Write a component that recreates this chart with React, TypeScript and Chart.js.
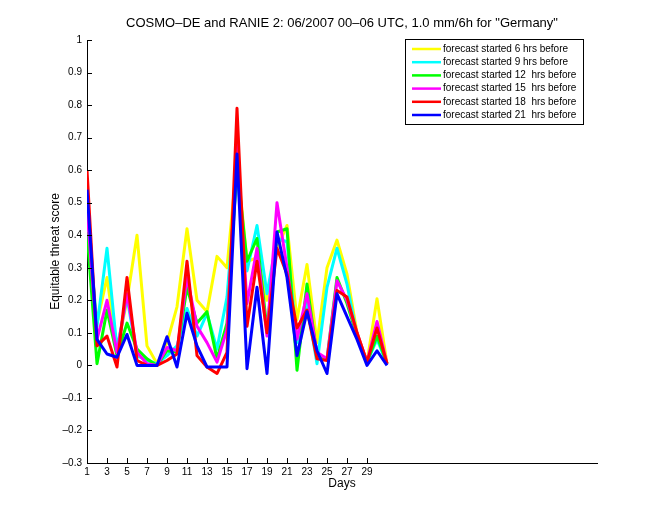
import React, { useEffect, useRef } from 'react';
import { Chart, registerables } from 'chart.js';

Chart.register(...registerables);

const days = [1, 2, 3, 4, 5, 6, 7, 8, 9, 10, 11, 12, 13, 14, 15, 16, 17, 18, 19, 20, 21, 22, 23, 24, 25, 26, 27, 28, 29, 30, 31];
const xTickValues = [1, 3, 5, 7, 9, 11, 13, 15, 17, 19, 21, 23, 25, 27, 29];
const yTickValues = [-0.3, -0.2, -0.1, 0, 0.1, 0.2, 0.3, 0.4, 0.5, 0.6, 0.7, 0.8, 0.9, 1];
const yTickLabels = ['–0.3', '–0.2', '–0.1', '0', '0.1', '0.2', '0.3', '0.4', '0.5', '0.6', '0.7', '0.8', '0.9', '1'];

const chartTitle = 'COSMO–DE and RANIE 2: 06/2007 00–06 UTC, 1.0 mm/6h for "Germany"';

const seriesLabels = [
  'forecast started 6 hrs before',
  'forecast started 9 hrs before',
  'forecast started 12  hrs before',
  'forecast started 15  hrs before',
  'forecast started 18  hrs before',
  'forecast started 21  hrs before',
];
const seriesColors = ['#ffff00', '#00ffff', '#00ff00', '#ff00ff', '#ff0000', '#0000ff'];

const fc6 = [0.44, 0.13, 0.27, 0.05, 0.20, 0.40, 0.06, 0.005, 0.07, 0.18, 0.42, 0.20, 0.165, 0.335, 0.30, 0.63, 0.32, 0.33, 0.20, 0.36, 0.43, 0.14, 0.31, 0.07, 0.30, 0.385, 0.28, 0.10, 0.01, 0.205, 0.005];
const fc9 = [0.47, 0.12, 0.36, 0.05, 0.21, 0.03, 0.015, 0.005, 0.03, 0.06, 0.175, 0.09, 0.16, 0.05, 0.21, 0.59, 0.29, 0.43, 0.22, 0.39, 0.38, 0.07, 0.19, 0.005, 0.24, 0.36, 0.25, 0.09, 0.01, 0.08, 0.005];
const fc12 = [0.41, 0.005, 0.17, 0.03, 0.13, 0.05, 0.02, 0.0, 0.045, 0.04, 0.24, 0.13, 0.165, 0.02, 0.13, 0.61, 0.32, 0.39, 0.11, 0.41, 0.42, -0.015, 0.25, 0.03, 0.02, 0.27, 0.19, 0.09, 0.01, 0.09, 0.005];
const fc15 = [0.48, 0.08, 0.20, 0.04, 0.22, 0.04, 0.005, 0.0, 0.055, 0.045, 0.27, 0.12, 0.07, 0.01, 0.11, 0.68, 0.19, 0.36, 0.09, 0.50, 0.30, 0.08, 0.22, 0.04, 0.02, 0.26, 0.20, 0.10, 0.01, 0.135, 0.005];
const fc18 = [0.60, 0.06, 0.09, -0.005, 0.27, 0.015, 0.0, 0.0, 0.015, 0.035, 0.32, 0.03, -0.005, -0.025, 0.04, 0.79, 0.12, 0.32, 0.10, 0.36, 0.28, 0.115, 0.17, 0.02, 0.015, 0.23, 0.21, 0.10, 0.01, 0.115, 0.005];
const fc21 = [0.54, 0.08, 0.035, 0.025, 0.095, 0.0, 0.0, 0.0, 0.088, -0.005, 0.16, 0.06, -0.005, -0.005, -0.005, 0.65, -0.01, 0.24, -0.025, 0.41, 0.27, 0.03, 0.165, 0.045, -0.025, 0.22, 0.15, 0.08, 0.0, 0.045, 0.0];

const seriesValues = [fc6, fc9, fc12, fc15, fc18, fc21];

const FONT = '"Liberation Sans", Arial, Helvetica, sans-serif';

const inwardTicks = {
  id: 'inwardTicks',
  afterDraw(chart: any) {
    const { ctx, chartArea } = chart;
    const xs = chart.scales.x;
    const ys = chart.scales.y;
    ctx.save();
    ctx.strokeStyle = '#000';
    ctx.lineWidth = 1;
    ctx.beginPath();
    xs.ticks.forEach((t: any) => {
      const px = Math.round(xs.getPixelForValue(t.value)) + 0.5;
      ctx.moveTo(px, chartArea.bottom);
      ctx.lineTo(px, chartArea.bottom - 5);
    });
    ys.ticks.forEach((t: any) => {
      const py = Math.round(ys.getPixelForValue(t.value)) + 0.5;
      ctx.moveTo(chartArea.left, py);
      ctx.lineTo(chartArea.left + 5, py);
    });
    ctx.stroke();
    ctx.restore();
  },
};

const centeredTitle = {
  id: 'centeredTitle',
  afterDraw(chart: any) {
    const { ctx, chartArea } = chart;
    ctx.save();
    ctx.font = `13px ${FONT}`;
    ctx.fillStyle = '#000';
    ctx.textAlign = 'center';
    ctx.textBaseline = 'middle';
    ctx.fillText(chartTitle, (chartArea.left + chartArea.right) / 2, 23);
    ctx.restore();
  },
};

const insideLegend = {
  id: 'insideLegend',
  afterDraw(chart: any) {
    const { ctx } = chart;
    const left = 405.5;
    const top = 39.5;
    const w = 178;
    const h = 85;
    ctx.save();
    ctx.fillStyle = '#fff';
    ctx.fillRect(left, top, w, h);
    ctx.strokeStyle = '#000';
    ctx.lineWidth = 1;
    ctx.strokeRect(left, top, w, h);
    ctx.font = `10px ${FONT}`;
    ctx.textBaseline = 'middle';
    ctx.textAlign = 'left';
    chart.data.datasets.forEach((ds: any, i: number) => {
      const yy = 49 + i * 13.2;
      ctx.strokeStyle = ds.borderColor;
      ctx.lineWidth = 2.5;
      ctx.beginPath();
      ctx.moveTo(412, yy);
      ctx.lineTo(441, yy);
      ctx.stroke();
      ctx.fillStyle = '#000';
      ctx.fillText(ds.label, 443, yy);
    });
    ctx.restore();
  },
};

export default function App() {
  const canvasRef = useRef<HTMLCanvasElement | null>(null);

  useEffect(() => {
    if (!canvasRef.current) return;
    Chart.defaults.font.family = FONT;
    Chart.defaults.color = '#000';
    const chart = new Chart(canvasRef.current, {
      type: 'line',
      data: {
        labels: days,
        datasets: seriesValues.map((vals, i) => ({
          label: seriesLabels[i],
          data: days.map((d, j) => ({ x: d, y: vals[j] })),
          borderColor: seriesColors[i],
          backgroundColor: seriesColors[i],
          borderWidth: 3,
          borderJoinStyle: 'round' as any,
          pointRadius: 0,
          tension: 0,
          fill: false,
          order: seriesValues.length - i,
        })),
      },
      options: {
        animation: false,
        responsive: false,
        layout: { padding: { left: 0, right: 63, top: 40, bottom: 0 } },
        plugins: {
          legend: { display: false },
          tooltip: { enabled: false },
          title: { display: false },
        },
        scales: {
          x: {
            type: 'linear',
            min: 1,
            max: 52,
            afterBuildTicks: (scale: any) => {
              scale.ticks = xTickValues.map((v) => ({ value: v }));
            },
            afterFit: (scale: any) => {
              scale.height = 57;
            },
            ticks: {
              autoSkip: false,
              maxRotation: 0,
              padding: 3,
              font: { size: 10 },
              color: '#000',
              callback: (_v: any, i: number) => String(xTickValues[i]),
            },
            grid: { display: false, drawTicks: false },
            border: { display: true, color: '#000', width: 1 },
            title: {
              display: true,
              text: 'Days',
              font: { size: 12 },
              color: '#000',
              padding: { top: 0, bottom: 28.8 },
            },
          },
          y: {
            type: 'linear',
            min: -0.3,
            max: 1,
            afterBuildTicks: (scale: any) => {
              scale.ticks = yTickValues.map((v) => ({ value: v }));
            },
            afterFit: (scale: any) => {
              scale.width = 87;
            },
            ticks: {
              autoSkip: false,
              padding: 5,
              font: { size: 10 },
              color: '#000',
              callback: (_v: any, i: number) => yTickLabels[i],
            },
            grid: { display: false, drawTicks: false },
            border: { display: true, color: '#000', width: 1 },
            title: {
              display: true,
              text: 'Equitable threat score',
              font: { size: 12 },
              color: '#000',
              padding: { top: 48, bottom: 0 },
            },
          },
        },
      },
      plugins: [inwardTicks, centeredTitle, insideLegend],
    });
    return () => chart.destroy();
  }, []);

  return (
    <div style={{ position: 'absolute', left: 0, top: 0, width: 660, height: 520, background: '#fff' }}>
      <canvas ref={canvasRef} width={660} height={520} style={{ display: 'block' }} />
    </div>
  );
}
